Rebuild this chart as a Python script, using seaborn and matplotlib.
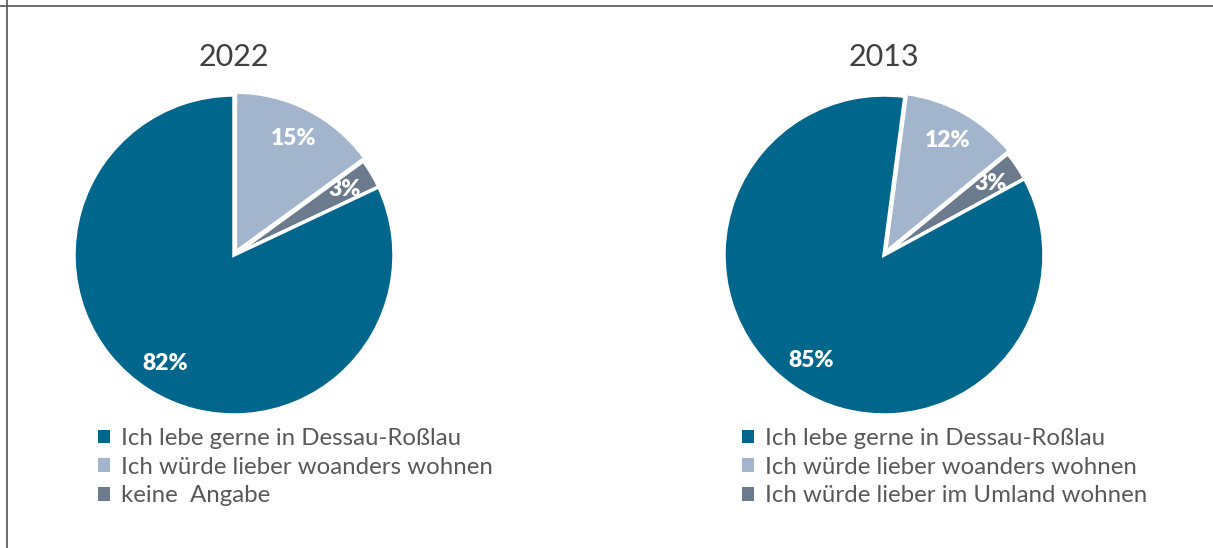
import matplotlib
matplotlib.use("Agg")
import matplotlib.pyplot as plt
import seaborn as sns
from matplotlib.patches import Patch
from matplotlib.lines import Line2D

# data (legend order)
years = ["2022", "2013"]
labels_2022 = ["Ich lebe gerne in Dessau-Roßlau", "Ich würde lieber woanders wohnen", "keine  Angabe"]
labels_2013 = ["Ich lebe gerne in Dessau-Roßlau", "Ich würde lieber woanders wohnen", "Ich würde lieber im Umland wohnen"]
values_2022 = [82, 15, 3]
values_2013 = [85, 12, 3]

colors = ["#00668C", "#A3B5CC", "#6B7A8C"]

sns.set_theme(style="white")
plt.rcParams['font.family'] = ['Lato', 'DejaVu Sans']

W, H = 1213, 548
fig = plt.figure(figsize=(W / 100, H / 100), dpi=100)

# border lines (top and left only)
fig.add_artist(Line2D([0, 1], [1 - 5.5 / H, 1 - 5.5 / H], color="#555555", lw=1.2, transform=fig.transFigure))
fig.add_artist(Line2D([6.5 / W, 6.5 / W], [0, 1], color="#555555", lw=1.2, transform=fig.transFigure))

order = [1, 2, 0]  # draw clockwise from top: light, grey, dark
panels = [
    (years[0], values_2022, labels_2022, 234, 90, 98),
    (years[1], values_2013, labels_2013, 884, 82.5, 742),
]

R = 160
for year, vals, labs, cx, start, lx in panels:
    half = R * 1.06
    ax = fig.add_axes([(cx - half) / W, (H - 255 - half) / H, 2 * half / W, 2 * half / H])
    v = [vals[i] for i in order]
    c = [colors[i] for i in order]
    wedges, texts, autotexts = ax.pie(
        v, colors=c, startangle=start, counterclock=False,
        explode=[0.02, 0, 0], autopct=lambda p: "%.0f%%" % p, pctdistance=0.8,
        wedgeprops=dict(edgecolor="white", linewidth=2.5),
        textprops=dict(color="white", fontsize=16.5, fontweight="heavy"),
    )
    ax.set_xlim(-1.06, 1.06)
    ax.set_ylim(-1.06, 1.06)
    ax.set_aspect("equal")
    ax.axis("off")

    fig.text(cx / W, 1 - 57 / H, year, ha="center", va="center", fontsize=22, color="#404040")

    handles = [Patch(facecolor=colors[i], edgecolor="none") for i in range(3)]
    fig.legend(handles, labs, loc="upper left", bbox_to_anchor=(lx / W, 1 - 428 / H),
               frameon=False, fontsize=17.3, labelcolor="#595959",
               handlelength=0.5, handleheight=0.5, handletextpad=0.45,
               labelspacing=0.32, borderpad=0, borderaxespad=0)

fig.savefig("out.png", dpi=100, facecolor="white")
